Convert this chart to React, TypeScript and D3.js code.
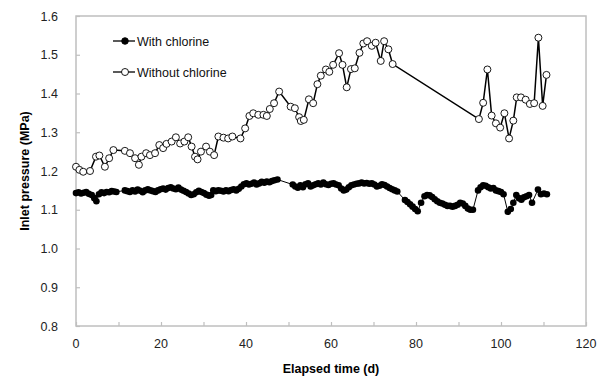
import React, { useRef, useEffect } from "react";
import * as d3 from "d3";

// days / values
const withDays = [
  0, 0.6, 1.2, 1.8, 2.4, 3.0, 3.7, 4.3, 4.8, 5.4, 6.0, 6.6, 7.2, 7.8, 8.4, 9.0, 9.5,
  11.5, 12.1, 12.7, 13.3, 13.9, 14.5, 15.1, 15.7, 16.3, 16.9, 17.5, 18.1, 18.7, 19.3, 19.9,
  20.5, 21.1, 21.7, 22.3, 22.9, 23.5, 24.1, 24.7, 25.3, 25.9, 26.5, 27.1, 27.7, 28.3, 28.9,
  29.5, 30.1, 30.7, 31.3, 31.8, 32.3, 32.9, 33.5, 34.1, 34.7, 35.3, 35.9, 36.5, 37.1, 37.7,
  38.3, 38.9, 39.5, 40.1, 40.7, 41.3, 41.9, 42.5, 43.1, 43.7, 44.3, 44.9, 45.5, 46.1, 46.7, 47.4,
  51.0, 51.6, 52.2, 52.8, 53.4, 54.0, 54.6, 55.2, 55.8, 56.4, 57.0, 57.6, 58.2, 58.8, 59.4,
  60.0, 60.6, 61.2, 61.8, 62.4, 63.0, 63.6, 64.2, 64.8, 65.4, 66.0, 66.6, 67.2, 67.8, 68.4,
  69.0, 69.6, 70.2, 70.8, 71.4, 72.0, 72.6, 73.2, 73.8, 74.4, 75.0, 75.6,
  77.4, 78.0, 78.6, 79.2, 79.8, 80.4, 81.2, 82.0, 82.6, 83.2, 83.8, 84.4, 85.0, 85.6, 86.2,
  86.8, 87.4, 88.0, 88.6, 89.2, 89.8, 90.4, 91.0, 91.6, 92.2, 92.8, 93.4,
  94.6, 95.2, 95.8, 96.4, 97.0, 97.6, 98.2, 98.8, 99.4, 100.0, 100.6,
  101.6, 102.3, 102.9, 103.6, 104.2, 104.8, 105.4, 106.0, 106.6, 107.3,
  108.7, 109.4, 110.1, 110.8,
];
const withValues = [
  1.143, 1.145, 1.142, 1.144, 1.146, 1.141, 1.138, 1.130, 1.122, 1.140, 1.145, 1.143, 1.146, 1.145, 1.148, 1.147, 1.146,
  1.150, 1.148, 1.146, 1.150, 1.147, 1.152, 1.149, 1.145, 1.150, 1.153, 1.150, 1.148, 1.146, 1.150, 1.153,
  1.155, 1.152, 1.156, 1.158, 1.155, 1.153, 1.157, 1.152, 1.149, 1.146, 1.142, 1.138, 1.140, 1.145, 1.149,
  1.146, 1.143, 1.139, 1.136, 1.138, 1.150, 1.148, 1.150, 1.149, 1.147, 1.150, 1.148, 1.151, 1.153, 1.150,
  1.154, 1.160, 1.166, 1.168, 1.165, 1.167, 1.170, 1.165, 1.168, 1.172, 1.170, 1.173, 1.171, 1.174, 1.176, 1.178,
  1.165, 1.160, 1.157, 1.163, 1.158, 1.166, 1.168, 1.160, 1.163, 1.166, 1.168, 1.165, 1.170, 1.166, 1.164,
  1.167, 1.168, 1.165, 1.163, 1.155, 1.150, 1.152, 1.158, 1.163, 1.165, 1.167, 1.168, 1.170, 1.168, 1.169,
  1.167, 1.168, 1.165, 1.160, 1.162, 1.166, 1.164, 1.160, 1.156, 1.153, 1.150, 1.147,
  1.125, 1.120, 1.114, 1.108, 1.102, 1.096, 1.118, 1.135, 1.138, 1.137, 1.133, 1.127, 1.122, 1.118, 1.116,
  1.113, 1.110, 1.110, 1.108, 1.110, 1.113, 1.118, 1.116, 1.110, 1.103, 1.100, 1.100,
  1.150, 1.158, 1.163, 1.162, 1.158, 1.155, 1.156, 1.150, 1.148, 1.146, 1.140,
  1.095, 1.102, 1.118, 1.138, 1.130, 1.126, 1.132, 1.135, 1.138, 1.118,
  1.152, 1.140, 1.142, 1.140,
];

const withoutDays = [
  0, 0.8, 1.7, 3.3, 4.7, 5.5, 6.8, 7.8, 8.8, 11.5, 12.7, 13.9, 14.8, 15.4, 16.5, 17.4, 18.6,
  19.6, 20.5, 21.3, 22.5, 23.5, 24.5, 25.5, 26.4, 27.2, 28.0, 28.6, 29.4, 30.6, 31.5, 32.5,
  33.5, 34.7, 35.8, 36.8, 38.7, 39.8, 40.8, 41.7, 42.9, 44.1, 44.9, 45.6, 46.6, 47.8, 50.5,
  51.5, 52.5, 52.9, 53.6, 54.8, 55.8, 56.8, 57.6, 58.8, 59.6, 60.5, 61.9, 62.7, 63.7, 64.7,
  65.6, 66.7, 67.6, 68.5, 69.6, 70.5, 71.7, 72.5, 73.5, 74.5,
  94.8, 95.8, 96.8, 97.8, 98.8, 99.8, 100.8, 101.9, 102.9, 103.7, 104.7, 105.8, 106.8, 107.8,
  108.8, 109.8, 110.7,
];
const withoutValues = [
  1.211, 1.203, 1.198, 1.200, 1.237, 1.240, 1.211, 1.233, 1.254, 1.252, 1.246, 1.233, 1.216, 1.237, 1.246, 1.241, 1.246,
  1.267, 1.259, 1.270, 1.276, 1.287, 1.271, 1.276, 1.287, 1.263, 1.237, 1.230, 1.250, 1.263, 1.250, 1.241,
  1.289, 1.286, 1.284, 1.289, 1.284, 1.310, 1.342, 1.349, 1.345, 1.345, 1.342, 1.360, 1.375, 1.405, 1.366,
  1.362, 1.339, 1.329, 1.332, 1.385, 1.375, 1.424, 1.446, 1.462, 1.456, 1.474, 1.504, 1.474, 1.416, 1.463,
  1.465, 1.505, 1.529, 1.535, 1.523, 1.531, 1.484, 1.535, 1.514, 1.476,
  1.334, 1.376, 1.462, 1.343, 1.323, 1.312, 1.349, 1.284, 1.330, 1.390, 1.390, 1.384, 1.373, 1.375,
  1.544, 1.368, 1.448,
];

const xTicks = [0, 20, 40, 60, 80, 100, 120];
const yTicks = [0.8, 0.9, 1.0, 1.1, 1.2, 1.3, 1.4, 1.5, 1.6];
const seriesNames = ["With chlorine", "Without chlorine"];

const W = 603;
const H = 376;
const left = 76, right = 586, top = 16, bottom = 326;
const font = "'Liberation Sans', Arial, sans-serif";

const App = () => {
  const svgRef = useRef(null);

  useEffect(() => {
    const svg = d3.select(svgRef.current);
    svg.selectAll("*").remove();

    const xScale = d3.scaleLinear().domain([0, 120]).range([left, right]);
    const yScale = d3.scaleLinear().domain([0.8, 1.6]).range([bottom, top]);
    const frame = "#bfbfbf";

    // frame
    svg.append("rect")
      .attr("x", left).attr("y", top)
      .attr("width", right - left).attr("height", bottom - top)
      .attr("fill", "none").attr("stroke", frame).attr("stroke-width", 1.5);

    // x ticks (inside, every 10 d)
    const xAxis = d3.axisBottom(xScale).tickValues(d3.range(0, 121, 10)).tickSize(-4).tickFormat(() => "");
    const gx = svg.append("g").attr("transform", `translate(0,${bottom})`).call(xAxis);
    gx.select(".domain").remove();
    gx.selectAll("line").attr("stroke", frame).attr("stroke-width", 1.2);

    const yAxis = d3.axisLeft(yScale).tickValues(yTicks).tickSize(-4).tickFormat(() => "");
    const gy = svg.append("g").attr("transform", `translate(${left},0)`).call(yAxis);
    gy.select(".domain").remove();
    gy.selectAll("line").attr("stroke", frame).attr("stroke-width", 1.2);

    // tick labels
    svg.append("g").selectAll("text").data(xTicks).enter().append("text")
      .attr("x", d => xScale(d)).attr("y", bottom + 22)
      .attr("text-anchor", "middle").attr("font-family", font).attr("font-size", 12.5).attr("fill", "#222")
      .text(d => d);
    svg.append("g").selectAll("text").data(yTicks).enter().append("text")
      .attr("x", 58).attr("y", d => yScale(d) + 4.5)
      .attr("text-anchor", "end").attr("font-family", font).attr("font-size", 12.5).attr("fill", "#222")
      .text(d => d.toFixed(1));

    // titles
    svg.append("text").attr("x", (left + right) / 2).attr("y", 373)
      .attr("text-anchor", "middle").attr("font-family", font).attr("font-weight", "bold").attr("font-size", 12.5)
      .text("Elapsed time (d)");
    svg.append("text").attr("transform", `translate(29,${(top + bottom) / 2}) rotate(-90)`)
      .attr("text-anchor", "middle").attr("font-family", font).attr("font-weight", "bold").attr("font-size", 12.5)
      .text("Inlet pressure (MPa)");

    const line = d3.line().x(d => xScale(d[0])).y(d => yScale(d[1]));
    const withData = withDays.map((d, i) => [d, withValues[i]]);
    const withoutData = withoutDays.map((d, i) => [d, withoutValues[i]]);

    // with chlorine
    svg.append("path").datum(withData).attr("d", line)
      .attr("fill", "none").attr("stroke", "#000").attr("stroke-width", 1);
    svg.append("g").selectAll("circle").data(withData).enter().append("circle")
      .attr("cx", d => xScale(d[0])).attr("cy", d => yScale(d[1])).attr("r", 3.3)
      .attr("fill", "#000");

    // without chlorine
    svg.append("path").datum(withoutData).attr("d", line)
      .attr("fill", "none").attr("stroke", "#000").attr("stroke-width", 1.5);
    svg.append("g").selectAll("circle").data(withoutData).enter().append("circle")
      .attr("cx", d => xScale(d[0])).attr("cy", d => yScale(d[1])).attr("r", 3.5)
      .attr("fill", "#fff").attr("stroke", "#000").attr("stroke-width", 0.9);

    // legend
    const legend = svg.append("g");
    seriesNames.forEach((name, i) => {
      const ly = 41 + i * 31;
      legend.append("line").attr("x1", 113).attr("x2", 135).attr("y1", ly).attr("y2", ly)
        .attr("stroke", "#000").attr("stroke-width", 1.3);
      legend.append("circle").attr("cx", 125).attr("cy", ly).attr("r", i === 0 ? 3.3 : 3.5)
        .attr("fill", i === 0 ? "#000" : "#fff").attr("stroke", "#000").attr("stroke-width", 0.9);
      legend.append("text").attr("x", 137).attr("y", ly + 4.5)
        .attr("font-family", font).attr("font-size", 12.5).attr("fill", "#111")
        .text(name);
    });
  }, []);

  return (
    <svg ref={svgRef} width={W} height={H}
      style={{ position: "absolute", left: 0, top: 0, background: "#fff" }}>
    </svg>
  );
};

export default App;
